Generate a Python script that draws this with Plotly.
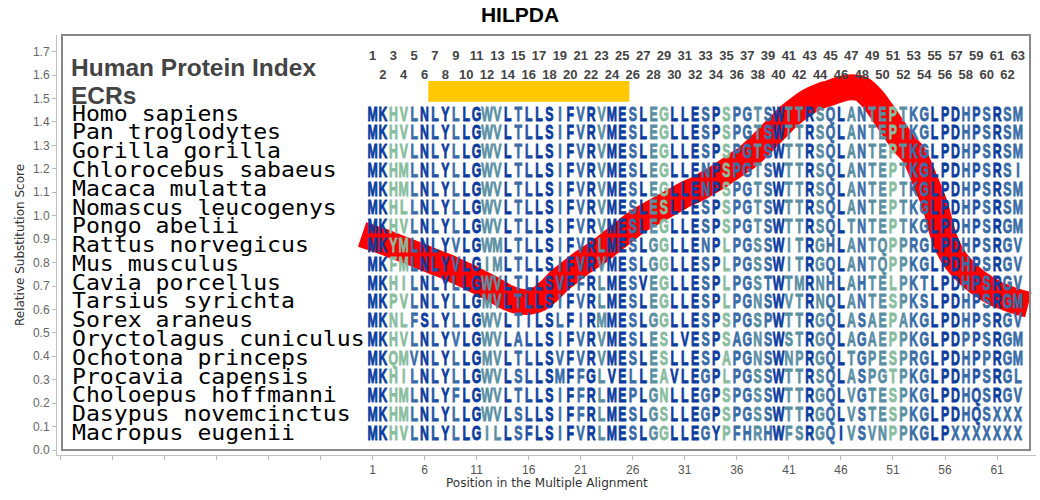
import plotly.graph_objects as go

# ---------------- data ----------------
chart_title = "HILPDA"
species = [
    "Homo sapiens", "Pan troglodytes", "Gorilla gorilla", "Chlorocebus sabaeus",
    "Macaca mulatta", "Nomascus leucogenys", "Pongo abelii", "Rattus norvegicus",
    "Mus musculus", "Cavia porcellus", "Tarsius syrichta", "Sorex araneus",
    "Oryctolagus cuniculus", "Ochotona princeps", "Procavia capensis",
    "Choloepus hoffmanni", "Dasypus novemcinctus", "Macropus eugenii",
]
sequences = [
    "MKHVLNLYLLGWVLTLLSIFVRVMESLEGLLESPSPGTSWTTRSQLANTEPTKGLPDHPSRSM",
    "MKHVLNLYLLGWVLTLLSIFVRVMESLEGLLESPSPGTSWTTRSQLANTEPTKGLPDHPSRSM",
    "MKHVLNLYLLGWVLTLLSIFVRVMESLEGLLESPSPGTSWTTRSQLANTEPTKGLPDHPSRSM",
    "MKHMLNLYLLGWVLTLLSIFVRVMESLEGLLENPSPGTSWTTRSQLANTEPTKGLPDHPSRSI",
    "MKHMLNLYLLGWVLTLLSIFVRVMESLEGLLENPSPGTSWTTRSQLANTEPTKGLPDHPSRSM",
    "MKHLLNLYLLGWVLTLLSIFVRVMESLESLLESPSPGTSWTTRSQLANTEPTKGLPDHPSRSM",
    "MKHVLNLYLLGWVLTLLSIFVRVMESLEGLLESPSPGTSWTTRSQLTNTEPTKGLPDHPSRGM",
    "MKYMLNLYVLGWMLTLLSIFVRLMESLGGLLENPLPGSSWITRGHLANTQPPRGLPDHPSRGV",
    "MKFMLNLYVLGIMLTLLSIFVRVMESLGGLLESPLPGSSWITRGQLANTQPPKGLPDHPSRGV",
    "MKHILNLYLLGWVLTLLSVFFRLMESVEGLLESPLPGSTWTMRNHLAHTELPKTLPDHPSRGV",
    "MKPVLNLYLLGMVLTLLSIFVRLMESLEGLLESPLPGNSWVTRNQLANTESPKSLPDHPSRGM",
    "MKNLFSLYLLGWVLTILSLFIRMMESLGGLLESPSPGSPWTTRGQLASAEPAKGLPDHPSRGV",
    "MKHVLNLYVLGWVLALLSIFVRVMESLESLVESPSAGNSWSTRGQLAGAEPPKGLPDPPSRGM",
    "MKQMVNLYLLGMVLTLLSVFVRVMESLESLLESPAPGNSWNPRGQLTGPESPRGLPDHPPRGM",
    "MKHILNLYLLGWVLSLLSMFFGLVELLEAVLEGPLPGSSWTTRSQLASPGTPKGLPDHPSRGL",
    "MKHMLNLYFLGWVLTLLSIFFRLMEPLGNLLEGPSPGSSWTTRGQLVGTESPKGLPDHQSRGV",
    "MKHMLNLYLLGWVLSLLSIFFRLMESLGSLLEGPSPGSSWTTRGQLVSTESPKGLPDHQSXXX",
    "MKHVLNLYLLGILLSFLSIFVRLMESLGGLLEGYPFHRHWFSRGQIVSVNPPKGLPXXXXXXX",
]
ecr_start, ecr_end = 7, 25
score_pos = list(range(0, 65))
score_val = [
    0.92, 0.905, 0.89, 0.872, 0.855, 0.838, 0.82, 0.802, 0.785, 0.765,
    0.745, 0.722, 0.70, 0.675, 0.65, 0.635, 0.632, 0.645, 0.68, 0.725,
    0.76, 0.795, 0.825, 0.855, 0.89, 0.925, 0.96, 0.99, 1.015, 1.04,
    1.065, 1.09, 1.11, 1.135, 1.16, 1.19, 1.22, 1.25, 1.29, 1.335,
    1.38, 1.425, 1.46, 1.49, 1.51, 1.525, 1.54, 1.548, 1.54, 1.50,
    1.44, 1.375, 1.31, 1.26, 1.16, 1.05, 0.895, 0.81, 0.76, 0.72,
    0.69, 0.665, 0.648, 0.632, 0.62,
]
y_tick_vals = [round(0.1 * i, 1) for i in range(18)]
x_tick_vals = list(range(-29, 62, 5))
legend_lines = ["Human Protein Index", "ECRs"]

# ---------------- styling ----------------
# colour shade of each alignment column (0 = darkest blue ... 4 = pale green)
column_shade = [
    0, 0, 4, 4, 2, 0, 1, 0, 2, 0, 0, 3, 3, 0, 2, 1, 0, 0, 2, 0,
    2, 0, 3, 0, 0, 2, 0, 3, 4, 0, 0, 0, 2, 0, 4, 2, 2, 3, 2, 0,
    3, 3, 0, 3, 2, 0, 3, 2, 3, 3, 4, 3, 2, 2, 0, 0, 0, 2, 1, 2,
    0, 2, 2,
]
palette = ["#0b3c9f", "#1f50a6", "#3a6da8", "#5a8fa3", "#89bd9f"]

L, R, T, B = 57, 4, 35, 45
W, H = 1040, 500
pw, ph = W - L - R, H - T - B
YMIN, YMAX = -0.0213, 1.7713
XMIN, XMAX = -29.31, 64.74


def py_to_y(py):
    return YMAX - (py - T) * (YMAX - YMIN) / ph


def px_to_x(px):
    return XMIN + (px - L) * (XMAX - XMIN) / pw


n_rows = len(sequences)
n_pos = len(sequences[0])
row_cap_centers = [113.2 + 18.78 * i for i in range(n_rows)]
name_size, letter_size = 20.5, 20.5
name_y = [py_to_y(c + 2.35) for c in row_cap_centers]
letter_y = [py_to_y(c + 2.2) for c in row_cap_centers]

fig = go.Figure()

# red substitution score curve
fig.add_trace(go.Scatter(
    x=score_pos, y=score_val, mode="lines",
    line=dict(color="#ff0000", width=26, shape="spline", smoothing=0.8),
    hoverinfo="skip", showlegend=False,
))

# species names
fig.add_trace(go.Scatter(
    x=[px_to_x(72)] * n_rows, y=name_y, mode="text", text=species,
    textposition="middle right",
    textfont=dict(family="DejaVu Sans Mono", size=name_size, color="#000000"),
    hoverinfo="skip", showlegend=False,
))

# alignment letters
lx, ly, lt, lc = [], [], [], []
for r, seq in enumerate(sequences):
    for i, ch in enumerate(seq):
        lx.append(i + 1)
        ly.append(letter_y[r])
        lt.append(ch)
        shade = 2 if ch == "X" else column_shade[i]
        lc.append(palette[shade])
fig.add_trace(go.Scatter(
    x=lx, y=ly, mode="text", text=lt, textposition="middle center",
    textfont=dict(family="Liberation Sans", size=letter_size, color=lc, weight="bold"),
    hoverinfo="skip", showlegend=False,
))

# position numbers on top
odd = list(range(1, n_pos + 1, 2))
even = list(range(2, n_pos + 1, 2))
fig.add_trace(go.Scatter(
    x=odd + even, y=[py_to_y(55.8 + 1.4)] * len(odd) + [py_to_y(74.3 + 1.4)] * len(even),
    mode="text", text=[str(v) for v in odd + even], textposition="middle center",
    textfont=dict(family="Liberation Sans", size=13, color="#444444", weight="bold"),
    hoverinfo="skip", showlegend=False,
))

# legend header text
fig.add_trace(go.Scatter(
    x=[px_to_x(71)] * 2, y=[py_to_y(66.9 + 2.6), py_to_y(95 + 2.6)], mode="text",
    text=legend_lines, textposition="middle right",
    textfont=dict(family="Liberation Sans", size=24.5, color="#444444", weight="bold"),
    hoverinfo="skip", showlegend=False,
))

fig.update_layout(
    width=W, height=H,
    margin=dict(l=L, r=R, t=T, b=B, autoexpand=False),
    paper_bgcolor="white", plot_bgcolor="white",
    title=dict(text="<b>" + chart_title + "</b>", x=0.5, xref="container",
               y=1 - 15 / H, yref="container", yanchor="middle", xanchor="center",
               font=dict(family="Liberation Sans", size=21, color="#000000")),
    xaxis=dict(range=[XMIN, XMAX], tickmode="array", tickvals=x_tick_vals,
               ticktext=[str(v) if v >= 1 else "" for v in x_tick_vals],
               ticks="outside", ticklen=4, tickcolor="#bbbbbb", automargin=False,
               showline=True, linecolor="#c0c0c0", linewidth=1,
               showgrid=False, zeroline=False,
               tickfont=dict(family="Liberation Sans", size=12, color="#555555")),
    yaxis=dict(range=[YMIN, YMAX], tickmode="array", tickvals=y_tick_vals,
               ticktext=["%.1f" % v for v in y_tick_vals],
               ticks="outside", ticklen=4, tickcolor="#bbbbbb", automargin=False,
               showline=True, linecolor="#c0c0c0", linewidth=1,
               showgrid=False, zeroline=False,
               tickfont=dict(family="Liberation Sans", size=12, color="#666666")),
    shapes=[
        dict(type="rect", xref="x", yref="y", x0=ecr_start - 0.64, x1=ecr_end + 0.67,
             y0=py_to_y(101.7), y1=py_to_y(81), fillcolor="#ffc800",
             line=dict(width=0), layer="below"),
        dict(type="rect", xref="paper", yref="paper",
             x0=(62 - L) / pw, x1=(1030 - L) / pw, y0=(H - B - 450) / ph, y1=1.0,
             line=dict(color="#888888", width=2), fillcolor="rgba(0,0,0,0)", layer="above"),
    ],
    annotations=[
        dict(text="Position in the Multiple Alignment", xref="paper", yref="paper",
             x=0.5, y=0, yshift=-28, xanchor="center", yanchor="middle", showarrow=False,
             font=dict(family="DejaVu Sans", size=12, color="#333333")),
        dict(text="Relative Substitution Score", xref="paper", yref="paper",
             x=0, y=0.5, xshift=-37, xanchor="center", yanchor="middle", showarrow=False,
             textangle=-90, font=dict(family="DejaVu Sans", size=12, color="#333333")),
    ],
)

post_js = """
document.body.style.margin = '0';
(function () {
  var gd = document.getElementById('{plot_id}');
  function squeeze(tr, s, strokeW) {
    if (!tr) return;
    tr.querySelectorAll('.textpoint text').forEach(function (t) {
      var x = parseFloat(t.getAttribute('x'));
      t.setAttribute('transform', 'matrix(' + s + ',0,0,1,' + (x * (1 - s)) + ',0)');
      if (strokeW) {
        t.style.stroke = t.style.fill;
        t.style.strokeWidth = strokeW;
      }
    });
  }
  function fix() {
    var traces = gd.querySelectorAll('.scatterlayer .trace');
    squeeze(traces[1], 1.13, 0);
    squeeze(traces[2], 0.6, 0.9);
  }
  fix();
  if (gd.on) gd.on('plotly_afterplot', fix);
})();
"""

fig.write_html("out.html", post_script=post_js, config={"displayModeBar": False})
